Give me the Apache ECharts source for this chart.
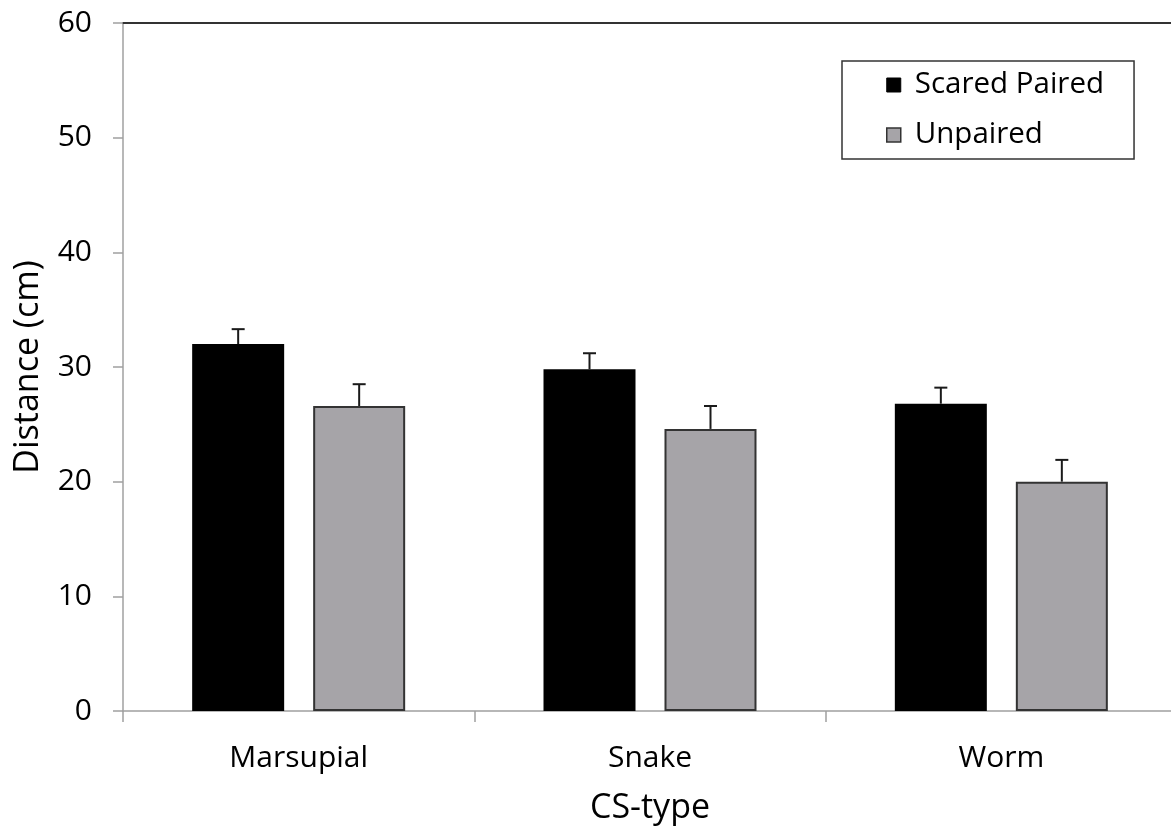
<!DOCTYPE html>
<html>
<head>
<meta charset="utf-8">
<style>
  html, body { margin: 0; padding: 0; background: #ffffff; overflow: hidden; }
  #chart { width: 1177px; height: 830px; }
</style>
<script src="https://cdn.jsdelivr.net/npm/echarts@6/dist/echarts.min.js"></script>
</head>
<body>
<div id="chart"></div>
<script>
// ---- Data ----
const categories = ['Marsupial', 'Snake', 'Worm'];
const seriesNames = ['Scared Paired', 'Unpaired'];
const pairedMeans = [32.0, 29.8, 26.8];
const pairedUpper = [33.3, 31.2, 28.2];
const unpairedMeans = [26.6, 24.6, 20.0];
const unpairedUpper = [28.5, 26.6, 21.9];
const yTicks = [0, 10, 20, 30, 40, 50, 60];

const FONT = '"Open Sans", "Noto Sans", sans-serif';
const TXT = '#000000';
const BAR_W = 92;
const BAR_GAP = 29;

const chart = echarts.init(document.getElementById('chart'), null, { renderer: 'canvas' });

function errorSeries(upper, means, sign, name) {
  return {
    type: 'custom',
    name: name + ' err',
    z: 5,
    silent: true,
    data: means.map((m, i) => [i, m, upper[i]]),
    encode: { x: 0, y: 2 },
    renderItem: function (params, api) {
      const base = api.coord([api.value(0), api.value(1)]);
      const top = api.coord([api.value(0), api.value(2)]);
      const x = base[0] + sign * (BAR_W + BAR_GAP) / 2;
      const style = { stroke: '#1a1a1a', lineWidth: 2 };
      return {
        type: 'group',
        children: [
          { type: 'line', shape: { x1: x, y1: base[1], x2: x, y2: top[1] }, style: style },
          { type: 'line', shape: { x1: x - 6.5, y1: top[1], x2: x + 6.5, y2: top[1] }, style: style }
        ]
      };
    }
  };
}

const option = {
  animation: false,
  backgroundColor: '#ffffff',
  textStyle: { fontFamily: FONT },
  grid: { left: 123, top: 23, right: 0, bottom: 118, containLabel: false },
  legend: {
    data: [
      { name: seriesNames[0], itemStyle: { color: '#000000', borderColor: '#000000', borderWidth: 1 } },
      { name: seriesNames[1], itemStyle: { color: '#a6a4a8', borderColor: '#333333', borderWidth: 1.5 } }
    ],
    orient: 'vertical',
    left: 842,
    top: 61,
    icon: 'rect',
    itemWidth: 14,
    itemHeight: 14,
    itemGap: 20,
    padding: [9, 30, 9, 44],
    borderColor: '#333333',
    borderWidth: 1.5,
    textStyle: { fontFamily: FONT, fontSize: 29.5, color: TXT, lineHeight: 26, padding: [4, 0, 0, 9] },
    selectedMode: false
  },
  xAxis: [{
    type: 'category',
    data: categories,
    position: 'bottom',
    axisLine: { show: true, lineStyle: { color: '#a0a0a0', width: 1.5 } },
    axisTick: { show: true, alignWithLabel: false, length: 11, lineStyle: { color: '#a0a0a0', width: 1.5 } },
    axisLabel: { fontFamily: FONT, fontSize: 30, color: TXT, margin: 32 },
    name: 'CS-type',
    nameLocation: 'middle',
    nameGap: 80,
    nameTextStyle: { fontFamily: FONT, fontSize: 34, color: TXT },
    splitLine: { show: false }
  }, {
    type: 'category',
    data: categories,
    position: 'top',
    axisLine: { show: true, lineStyle: { color: '#333333', width: 2 } },
    axisTick: { show: false },
    axisLabel: { show: false },
    splitLine: { show: false }
  }],
  yAxis: {
    type: 'value',
    min: 0,
    max: 60,
    interval: 10,
    axisLine: { show: true, lineStyle: { color: '#a0a0a0', width: 1.5 } },
    axisTick: { show: true, length: 10, lineStyle: { color: '#a0a0a0', width: 1.5 } },
    axisLabel: {
      fontFamily: FONT, fontSize: 30, color: TXT, margin: 31,
      formatter: function (v) { return yTicks.indexOf(v) >= 0 ? String(v) : ''; }
    },
    splitLine: { show: false },
    name: 'Distance (cm)',
    nameLocation: 'middle',
    nameGap: 78,
    nameRotate: 90,
    nameTextStyle: { fontFamily: FONT, fontSize: 34, color: TXT }
  },
  series: [
    {
      name: seriesNames[0],
      type: 'bar',
      data: pairedMeans,
      barWidth: BAR_W,
      barGap: (BAR_GAP / BAR_W * 100).toFixed(2) + '%',
      itemStyle: { color: '#000000', borderColor: '#000000', borderWidth: 0 },
      z: 2
    },
    {
      name: seriesNames[1],
      type: 'bar',
      data: unpairedMeans,
      barWidth: BAR_W,
      barGap: (BAR_GAP / BAR_W * 100).toFixed(2) + '%',
      itemStyle: { color: '#a6a4a8', borderColor: '#333333', borderWidth: 2 },
      z: 2
    },
    errorSeries(pairedUpper, pairedMeans, -1, seriesNames[0]),
    errorSeries(unpairedUpper, unpairedMeans, 1, seriesNames[1])
  ]
};

chart.setOption(option);
</script>
</body>
</html>
